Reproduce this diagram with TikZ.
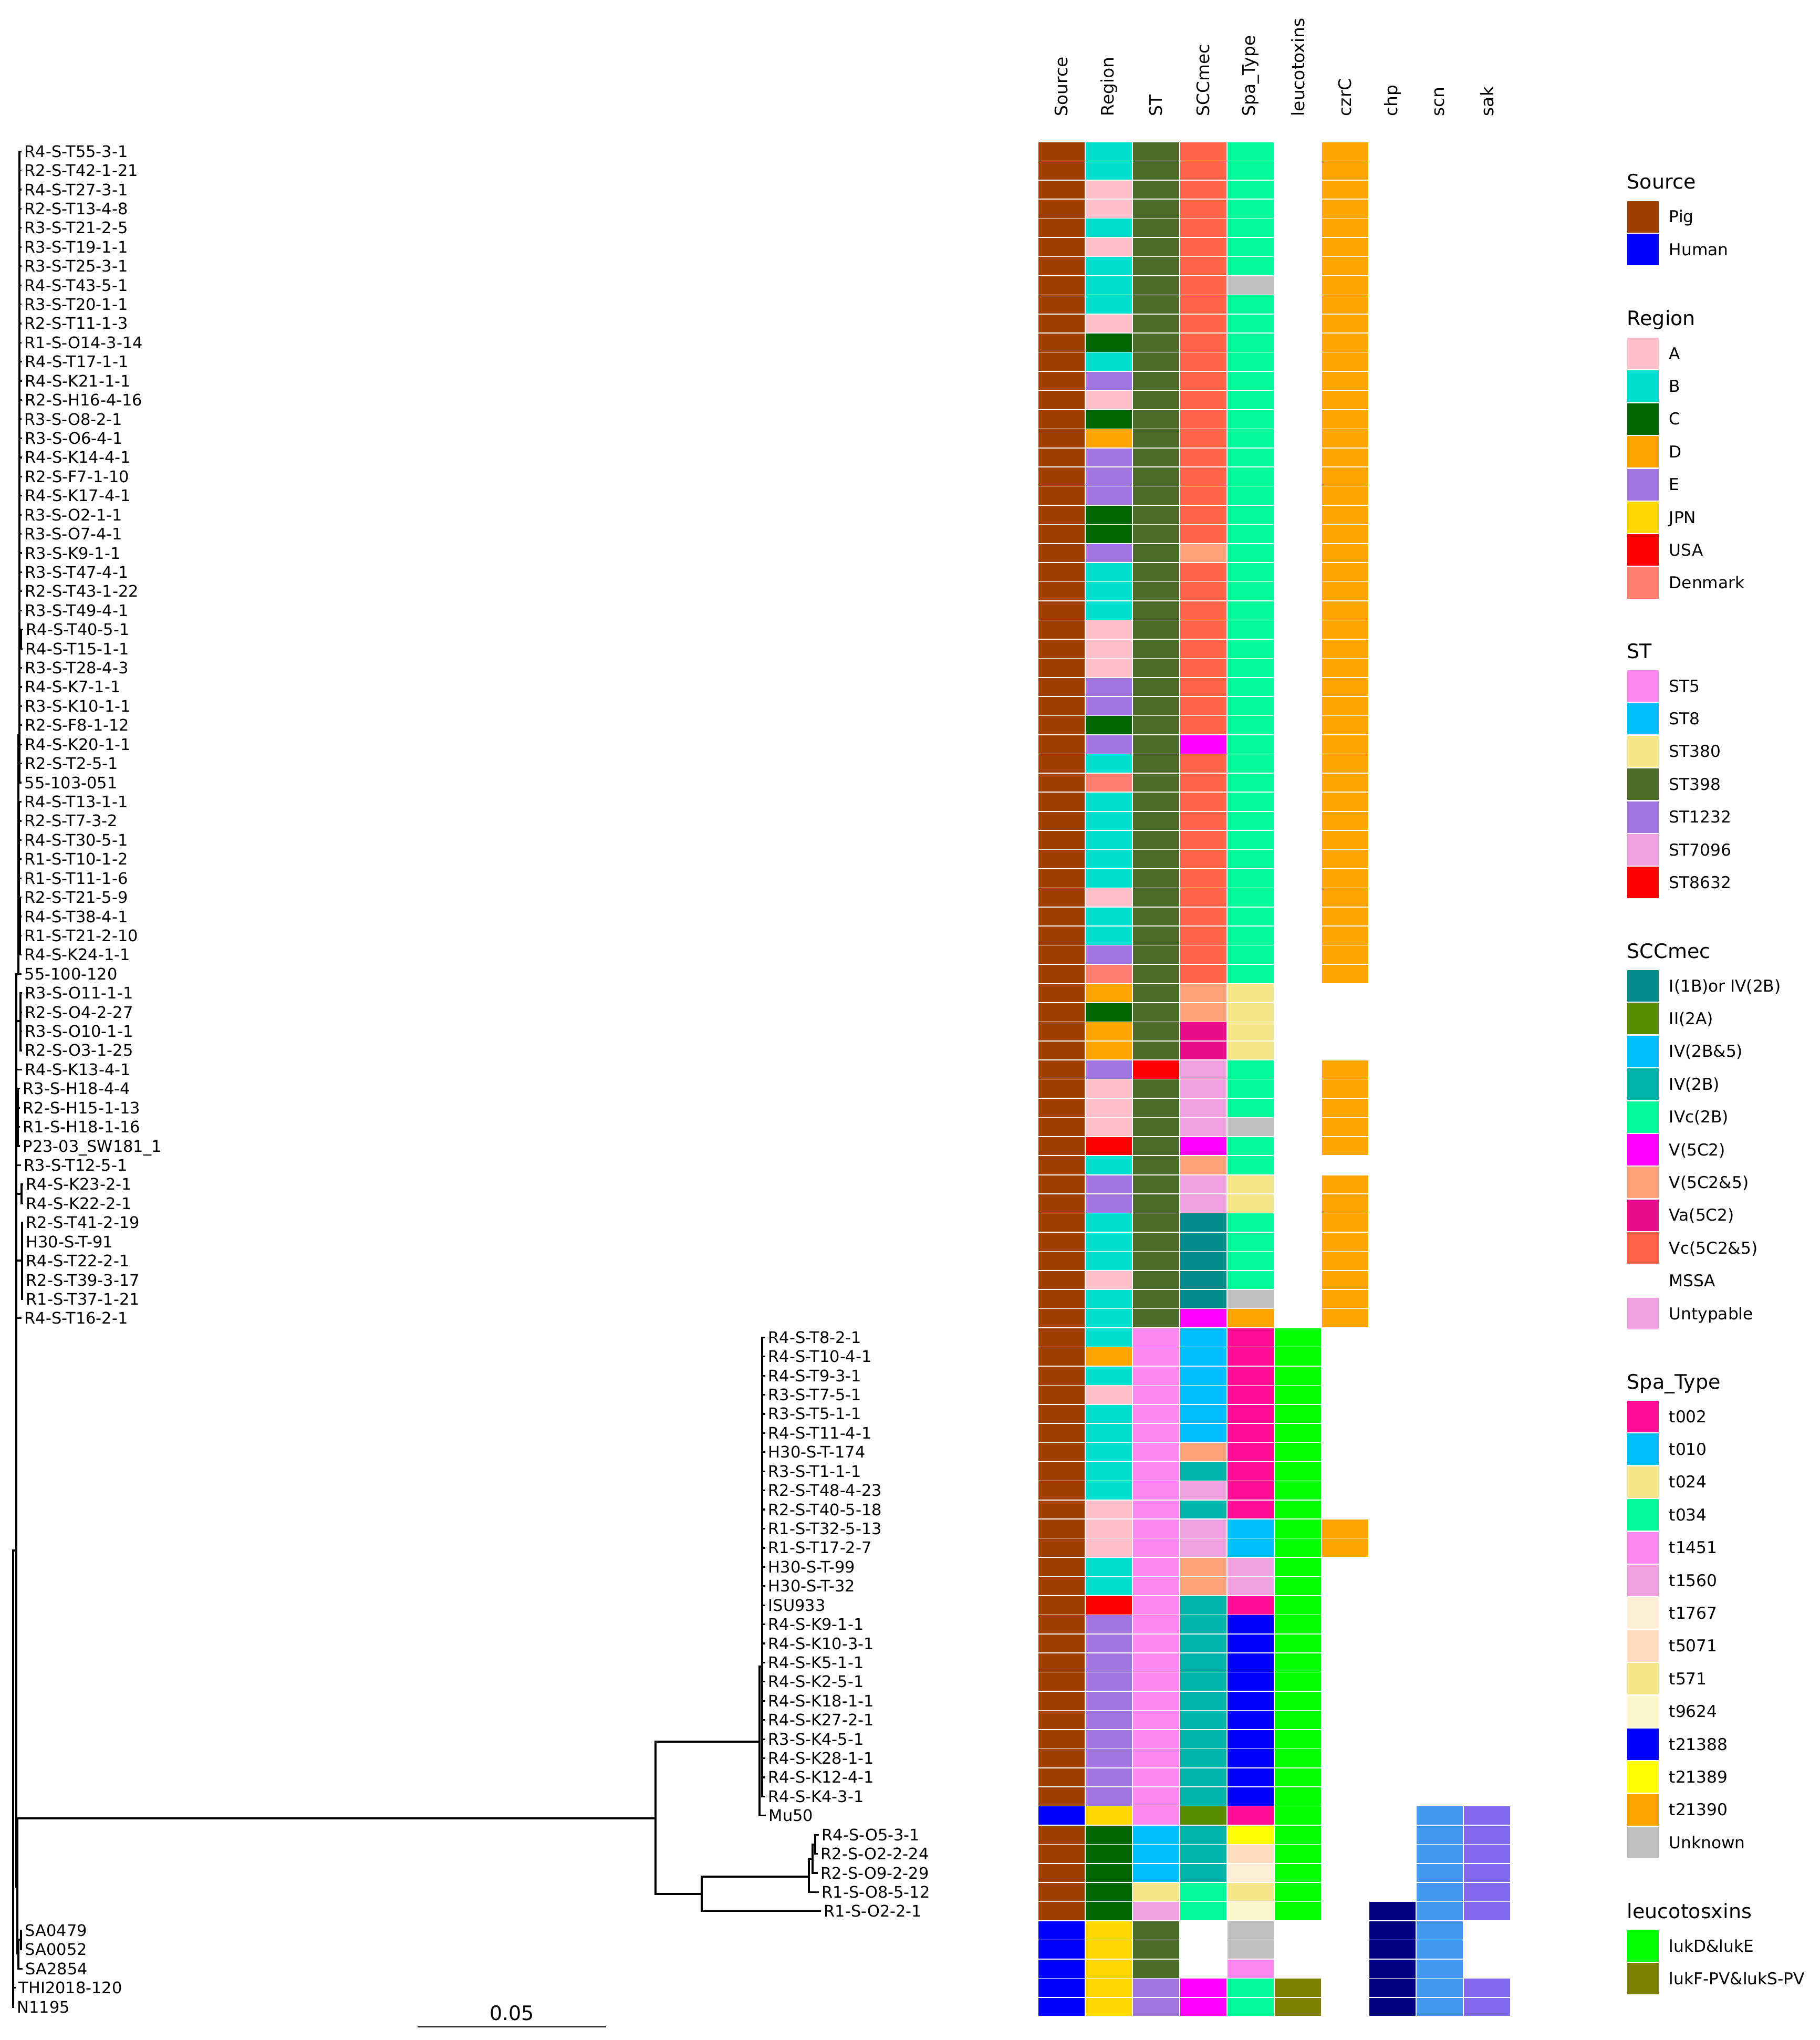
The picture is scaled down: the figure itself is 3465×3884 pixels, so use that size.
\documentclass[tikz,border=0pt]{standalone}
\usepackage{fontspec}
\setmainfont{DejaVu Sans}

% colours of the heat map and of the legend
\definecolor{pig}{RGB}{160,64,0}
\definecolor{human}{RGB}{0,0,255}
\definecolor{regA}{RGB}{255,192,203}
\definecolor{regB}{RGB}{0,224,208}
\definecolor{regC}{RGB}{0,100,0}
\definecolor{regD}{RGB}{255,165,0}
\definecolor{regE}{RGB}{160,117,224}
\definecolor{regJPN}{RGB}{255,215,0}
\definecolor{regUSA}{RGB}{255,0,0}
\definecolor{regDK}{RGB}{255,127,112}
\definecolor{st5}{RGB}{255,136,240}
\definecolor{st8}{RGB}{0,191,255}
\definecolor{st380}{RGB}{245,230,140}
\definecolor{st398}{RGB}{75,107,40}
\definecolor{st1232}{RGB}{160,117,224}
\definecolor{st7096}{RGB}{240,162,224}
\definecolor{st8632}{RGB}{255,0,0}
\definecolor{mecI}{RGB}{0,139,139}
\definecolor{mecII}{RGB}{88,140,0}
\definecolor{mecIVf}{RGB}{0,191,255}
\definecolor{mecIV}{RGB}{0,178,170}
\definecolor{mecIVc}{RGB}{0,250,154}
\definecolor{mecV}{RGB}{255,0,255}
\definecolor{mecVf}{RGB}{255,162,122}
\definecolor{mecVa}{RGB}{232,12,138}
\definecolor{mecVc}{RGB}{255,99,71}
\definecolor{mecUnt}{RGB}{240,162,224}
\definecolor{t002}{RGB}{255,12,150}
\definecolor{t010}{RGB}{0,191,255}
\definecolor{t024}{RGB}{245,230,140}
\definecolor{t034}{RGB}{0,250,154}
\definecolor{t1451}{RGB}{255,136,240}
\definecolor{t1560}{RGB}{240,162,224}
\definecolor{t1767}{RGB}{255,238,214}
\definecolor{t5071}{RGB}{255,220,188}
\definecolor{t571}{RGB}{245,230,140}
\definecolor{t9624}{RGB}{253,248,204}
\definecolor{t21388}{RGB}{0,0,255}
\definecolor{t21389}{RGB}{255,255,0}
\definecolor{t21390}{RGB}{255,165,0}
\definecolor{tUnk}{RGB}{192,192,192}
\definecolor{lukDE}{RGB}{0,255,0}
\definecolor{lukPV}{RGB}{128,128,0}
\definecolor{czrC}{RGB}{255,165,0}
\definecolor{chp}{RGB}{0,0,128}
\definecolor{scn}{RGB}{66,150,240}
\definecolor{sak}{RGB}{130,106,238}

% centre of row #1 (rows 1..98, top to bottom)
\newcommand{\rowy}[1]{(270+(#1-0.5)*36.42)}

\begin{document}
\begin{tikzpicture}[x=0.25pt, y=-0.25pt,
    branch/.style={line width=0.8pt},
    leaf/.style={anchor=base west, inner sep=0pt, font=\fontsize{7.6}{9}\selectfont},
    head/.style={rotate=90, anchor=west, inner sep=0pt, font=\fontsize{8.2}{10}\selectfont},
    cell/.style={draw=white, line width=0.4pt},
    legtitle/.style={anchor=base west, inner sep=0pt, font=\fontsize{9.5}{11}\selectfont},
    legitem/.style={anchor=base west, inner sep=0pt, font=\fontsize{7.8}{9}\selectfont}]
    \useasboundingbox (0,0) rectangle (3465,3884);

    % leaf labels and tips
    \foreach \lab/\lx [count=\r] in {R4-S-T55-3-1/46, R2-S-T42-1-21/46, R4-S-T27-3-1/46,
        R2-S-T13-4-8/46, R3-S-T21-2-5/46, R3-S-T19-1-1/46, R3-S-T25-3-1/46, R4-S-T43-5-1/46,
        R3-S-T20-1-1/46, R2-S-T11-1-3/46, R1-S-O14-3-14/46, R4-S-T17-1-1/47, R4-S-K21-1-1/47,
        R2-S-H16-4-16/47, R3-S-O8-2-1/46, R3-S-O6-4-1/47, R4-S-K14-4-1/47, R2-S-F7-1-10/47,
        R4-S-K17-4-1/47, R3-S-O2-1-1/46, R3-S-O7-4-1/46, R3-S-K9-1-1/47, R3-S-T47-4-1/47,
        R2-S-T43-1-22/47, R3-S-T49-4-1/47, R4-S-T40-5-1/49, R4-S-T15-1-1/48, R3-S-T28-4-3/47,
        R4-S-K7-1-1/47, R3-S-K10-1-1/47, R2-S-F8-1-12/47, R4-S-K20-1-1/47, R2-S-T2-5-1/47,
        55-103-051/46, R4-S-T13-1-1/46, R2-S-T7-3-2/46, R4-S-T30-5-1/46, R1-S-T10-1-2/46,
        R1-S-T11-1-6/46, R2-S-T21-5-9/46, R4-S-T38-4-1/46, R1-S-T21-2-10/46, R4-S-K24-1-1/46,
        55-100-120/46, R3-S-O11-1-1/47, R2-S-O4-2-27/47, R3-S-O10-1-1/47, R2-S-O3-1-25/47,
        R4-S-K13-4-1/47, R3-S-H18-4-4/43, R2-S-H15-1-13/43, R1-S-H18-1-16/43,
        P23-03\_SW181\_1/43, R3-S-T12-5-1/45, R4-S-K23-2-1/49, R4-S-K22-2-1/49,
        R2-S-T41-2-19/49, H30-S-T-91/49, R4-S-T22-2-1/49, R2-S-T39-3-17/49, R1-S-T37-1-21/49,
        R4-S-T16-2-1/46, R4-S-T8-2-1/1462, R4-S-T10-4-1/1462, R4-S-T9-3-1/1462,
        R3-S-T7-5-1/1462, R3-S-T5-1-1/1462, R4-S-T11-4-1/1462, H30-S-T-174/1462,
        R3-S-T1-1-1/1462, R2-S-T48-4-23/1462, R2-S-T40-5-18/1462, R1-S-T32-5-13/1462,
        R1-S-T17-2-7/1462, H30-S-T-99/1462, H30-S-T-32/1462, ISU933/1462, R4-S-K9-1-1/1462,
        R4-S-K10-3-1/1462, R4-S-K5-1-1/1462, R4-S-K2-5-1/1462, R4-S-K18-1-1/1462,
        R4-S-K27-2-1/1462, R3-S-K4-5-1/1462, R4-S-K28-1-1/1462, R4-S-K12-4-1/1462,
        R4-S-K4-3-1/1462, Mu50/1463, R4-S-O5-3-1/1564, R2-S-O2-2-24/1562, R2-S-O9-2-29/1562,
        R1-S-O8-5-12/1564, R1-S-O2-2-1/1568, SA0479/47, SA0052/47, SA2854/48,
        THI2018-120/35, N1195/32} {
        \coordinate (tip\r) at ({\lx-5},{\rowy{\r}});
        \node[leaf] (leaf\r) at (\lx,{\rowy{\r}+11}) {\lab};
    }

    % inner nodes of the tree
    \coordinate (root) at (25,3386);
    \coordinate (q) at (31,2952);
    \coordinate (p) at (35,1855);
    \coordinate (top) at (37,1400);
    \coordinate (c26) at (40,1217);
    \coordinate (c35) at (36,1670);
    \coordinate (c40) at (38,1745);
    \coordinate (c45) at (39,1944);
    \coordinate (c50) at (34,2127);
    \coordinate (c55) at (41,2273);
    \coordinate (c57) at (42,2400);
    \coordinate (qq) at (33,3592);
    \coordinate (sa) at (35,3719);
    \coordinate (sa1) at (40,3693);
    \coordinate (m0) at (1248,3462);
    \coordinate (mA) at (1446,3316);
    \coordinate (mA2) at (1451,3173);
    \coordinate (mB) at (1336,3606);
    \coordinate (mB1) at (1540,3573);
    \coordinate (mB2) at (1547,3539);
    \coordinate (mB3) at (1552,3512);

    % branches
    \foreach \a/\b in {root/q, root/tip97, root/tip98, q/p, q/c45, q/tip49, q/c50, q/tip54,
        q/c55, q/c57, q/tip62, q/qq, p/top, p/c35, p/tip44, top/c26, c26/tip26, c26/tip27,
        c35/c40, qq/m0, qq/sa, sa/sa1, sa/tip96, sa1/tip94, sa1/tip95, m0/mA, m0/mB,
        mA/mA2, mA/tip88, mB/mB1, mB/tip93, mB1/mB2, mB1/tip92, mB2/mB3, mB2/tip91,
        mB3/tip89, mB3/tip90}
        \draw[branch] (\a) |- (\b);
    \foreach \r in {1,...,25,28,29,...,34} \draw[branch] (top) |- (tip\r);
    \foreach \r in {35,...,39} \draw[branch] (c35) |- (tip\r);
    \foreach \r in {40,...,43} \draw[branch] (c40) |- (tip\r);
    \foreach \r in {45,...,48} \draw[branch] (c45) |- (tip\r);
    \foreach \r in {50,...,53} \draw[branch] (c50) |- (tip\r);
    \foreach \r in {55,56} \draw[branch] (c55) |- (tip\r);
    \foreach \r in {57,...,61} \draw[branch] (c57) |- (tip\r);
    \foreach \r in {63,...,87} \draw[branch] (mA2) |- (tip\r);

    % scale bar
    \coordinate (sb0) at (795,3859);
    \coordinate (sb1) at (1154,3859);
    \draw[line width=0.7pt] (sb0) -- (sb1);
    \node[anchor=base, inner sep=0pt, font=\fontsize{9.5}{11}\selectfont] (sblab) at (974.5,3846) {0.05};

    % column heads
    \foreach \txt [count=\k] in {Source, Region, ST, SCCmec, Spa\_Type, leucotoxins, czrC, chp, scn, sak}
        \node[head] (head\k) at ({1976+90*(\k-0.5)},222) {\txt};

    % heat map: column / colour / rows
    \foreach \k/\cc/\rows in {
        1/pig/{1,...,87,89,90,...,93},
        1/human/{88,94,95,...,98},
        2/regA/{3,4,6,10,14,26,27,28,40,50,51,52,60,66,72,73,74},
        2/regB/{1,2,5,7,8,9,12,23,24,25,33,35,36,37,38,39,41,42,54,57,58,59,61,62,63,65,67,68,69,70,71,75,76},
        2/regC/{11,15,20,21,31,46,89,90,...,93},
        2/regD/{16,45,47,48,64},
        2/regE/{13,17,18,19,22,29,30,32,43,49,55,56,78,79,...,87},
        2/regJPN/{88,94,95,...,98},
        2/regUSA/{53,77},
        2/regDK/{34,44},
        3/st398/{1,...,48,50,51,...,62,94,95,96},
        3/st8632/{49},
        3/st5/{63,64,...,88},
        3/st8/{89,90,91},
        3/st380/{92},
        3/st7096/{93},
        3/st1232/{97,98},
        4/mecVc/{1,...,21,23,24,...,31,33,34,...,44},
        4/mecVf/{22,45,46,54,69,75,76},
        4/mecV/{32,53,62,97,98},
        4/mecVa/{47,48},
        4/mecUnt/{49,50,51,52,55,56,71,73,74},
        4/mecI/{57,58,...,61},
        4/mecIVf/{63,64,...,68},
        4/mecIV/{70,72,77,78,...,87,89,90,91},
        4/mecII/{88},
        4/mecIVc/{92,93},
        5/t034/{1,...,7,9,10,...,44,49,50,51,53,54,57,58,59,60,97,98},
        5/tUnk/{8,52,61,94,95},
        5/t571/{45,46,47,48,55,56,92},
        5/t21390/{62},
        5/t002/{63,64,...,72,77,88},
        5/t010/{73,74},
        5/t1560/{75,76},
        5/t21388/{78,79,...,87},
        5/t21389/{89},
        5/t5071/{90},
        5/t1767/{91},
        5/t9624/{93},
        5/t1451/{96},
        6/lukDE/{63,64,...,93},
        6/lukPV/{97,98},
        7/czrC/{1,...,44,49,50,...,53,55,56,...,62,73,74},
        8/chp/{93,94,...,98},
        9/scn/{88,89,...,98},
        10/sak/{88,89,...,93,97,98}} {
        \foreach \r in \rows
            \fill[\cc, cell] ({1976+90*(\k-1)},{270+(\r-1)*36.42}) rectangle ++(90,36.42);
    }

    % legend
    \node[legtitle] (legSource) at (3097,360) {Source};
    \foreach \cc/\txt [count=\i] in {pig/Pig, human/Human} {
        \fill[\cc] (3098,{413+62.4*(\i-1)-30}) rectangle ++(60,60);
        \node[legitem] (legSource\i) at (3177,{413+62.4*(\i-1)+11}) {\txt};
    }
    \node[legtitle] (legRegion) at (3097,619) {Region};
    \foreach \cc/\txt [count=\i] in {regA/A, regB/B, regC/C, regD/D, regE/E, regJPN/JPN,
        regUSA/USA, regDK/Denmark} {
        \fill[\cc] (3098,{673+62.4*(\i-1)-30}) rectangle ++(60,60);
        \node[legitem] (legRegion\i) at (3177,{673+62.4*(\i-1)+11}) {\txt};
    }
    \node[legtitle] (legST) at (3097,1253) {ST};
    \foreach \cc/\txt [count=\i] in {st5/ST5, st8/ST8, st380/ST380, st398/ST398,
        st1232/ST1232, st7096/ST7096, st8632/ST8632} {
        \fill[\cc] (3098,{1306+62.4*(\i-1)-30}) rectangle ++(60,60);
        \node[legitem] (legST\i) at (3177,{1306+62.4*(\i-1)+11}) {\txt};
    }
    \node[legtitle] (legMec) at (3097,1824) {SCCmec};
    \foreach \cc/\txt [count=\i] in {mecI/I(1B)or IV(2B), mecII/II(2A), mecIVf/IV(2B\&5),
        mecIV/IV(2B), mecIVc/IVc(2B), mecV/V(5C2), mecVf/V(5C2\&5), mecVa/Va(5C2),
        mecVc/Vc(5C2\&5), white/MSSA, mecUnt/Untypable} {
        \fill[\cc] (3098,{1877+62.4*(\i-1)-30}) rectangle ++(60,60);
        \node[legitem] (legMec\i) at (3177,{1877+62.4*(\i-1)+11}) {\txt};
    }
    \node[legtitle] (legSpa) at (3097,2644) {Spa\_Type};
    \foreach \cc/\txt [count=\i] in {t002/t002, t010/t010, t024/t024, t034/t034,
        t1451/t1451, t1560/t1560, t1767/t1767, t5071/t5071, t571/t571, t9624/t9624,
        t21388/t21388, t21389/t21389, t21390/t21390, tUnk/Unknown} {
        \fill[\cc] (3098,{2697+62.4*(\i-1)-30}) rectangle ++(60,60);
        \node[legitem] (legSpa\i) at (3177,{2697+62.4*(\i-1)+11}) {\txt};
    }
    \node[legtitle] (legLuk) at (3097,3652) {leucotosxins};
    \foreach \cc/\txt [count=\i] in {lukDE/lukD\&lukE, lukPV/lukF-PV\&lukS-PV} {
        \fill[\cc] (3098,{3705+62.4*(\i-1)-30}) rectangle ++(60,60);
        \node[legitem] (legLuk\i) at (3177,{3705+62.4*(\i-1)+11}) {\txt};
    }
\end{tikzpicture}
\end{document}
